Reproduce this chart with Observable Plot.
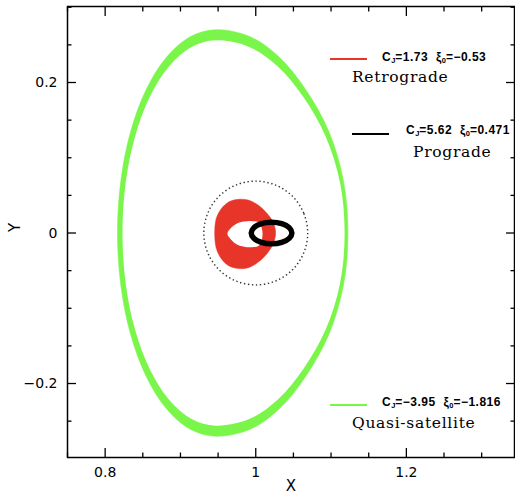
<!DOCTYPE html>
<html><head><meta charset="utf-8">
<script src="https://cdn.jsdelivr.net/npm/d3@7"></script>
<script src="https://cdn.jsdelivr.net/npm/@observablehq/plot@0.6"></script>
<style>
html,body{margin:0;padding:0;background:#fff;}
#wrap{position:relative;width:515px;height:495px;overflow:hidden;}
.lgline{position:absolute;height:2px;}
.lginfo{position:absolute;font-family:'Liberation Sans',Arial,sans-serif;font-weight:bold;font-size:12px;letter-spacing:0.5px;line-height:1;transform:translateY(-50%);white-space:nowrap;color:#000;}
.lginfo sub{font-size:7.5px;vertical-align:-2px;letter-spacing:0;}
.lgname{position:absolute;font-family:'DejaVu Serif',serif;font-size:15.5px;letter-spacing:0.7px;line-height:1;transform:translateY(-50%);white-space:nowrap;color:#000;}
</style></head><body><div id="wrap"></div>
<script>
// ---- data (x, y in rotating-frame units) ----
const quasiOuter = [
  [0.9470,0.2700],[0.9132,0.2608],[0.8817,0.2338],[0.8547,0.1909],[0.8339,0.1350],[0.8209,0.0699],
  [0.8164,0],[0.8209,-0.0699],[0.8339,-0.1350],[0.8547,-0.1909],[0.8817,-0.2338],[0.9132,-0.2608],
  [0.9470,-0.2700],[0.9924,-0.2608],[1.0310,-0.2338],[1.0660,-0.1909],[1.0970,-0.1350],[1.1163,-0.0699],
  [1.1224,0],[1.1163,0.0699],[1.0970,0.1350],[1.0660,0.1909],[1.0310,0.2338],[0.9924,0.2608]
];
const quasiInner = [
  [0.9470,0.2560],[0.9149,0.2473],[0.8850,0.2217],[0.8593,0.1810],[0.8396,0.1280],[0.8272,0.0663],
  [0.8230,0],[0.8272,-0.0663],[0.8396,-0.1280],[0.8593,-0.1810],[0.8850,-0.2217],[0.9149,-0.2473],
  [0.9470,-0.2560],[0.9913,-0.2473],[1.0290,-0.2217],[1.0630,-0.1810],[1.0930,-0.1280],[1.1120,-0.0663],
  [1.1180,0],[1.1120,0.0663],[1.0930,0.1280],[1.0630,0.1810],[1.0290,0.2217],[0.9913,0.2473]
];
const retroOuter = [
  [0.9455,0],[0.9475,0.0190],[0.9540,0.0320],[0.9645,0.0415],[0.9777,0.0448],[0.9910,0.0435],
  [1.0043,0.0362],[1.0154,0.0255],[1.0229,0.0144],[1.0264,0],
  [1.0229,-0.0150],[1.0154,-0.0268],[1.0043,-0.0380],[0.9910,-0.0458],[0.9777,-0.0472],
  [0.9645,-0.0437],[0.9540,-0.0338],[0.9475,-0.0200]
];
const retroHole = [
  [0.9623,-0.001],[0.9680,0.0075],[0.9750,0.0125],[0.9845,0.0152],[0.9950,0.0158],[1.0035,0.0142],
  [1.0075,0.0080],[1.0090,-0.001],
  [1.0075,-0.0110],[1.0035,-0.0172],[0.9950,-0.0188],[0.9845,-0.0182],[0.9750,-0.0152],[0.9680,-0.0095]
];
const progradeOrbit = [
  [1.048,0],[1.0444,0.0072],[1.0345,0.0124],[1.021,0.0143],[1.0075,0.0124],[0.9976,0.0072],
  [0.994,0],[0.9976,-0.0072],[1.0075,-0.0124],[1.021,-0.0143],[1.0345,-0.0124],[1.0444,-0.0072]
];
const hillCircle = [
  [1.069,0],[1.0637,0.0264],[1.0488,0.0488],[1.0264,0.0637],[1,0.069],[0.9736,0.0637],
  [0.9512,0.0488],[0.9363,0.0264],[0.931,0],[0.9363,-0.0264],[0.9512,-0.0488],[0.9736,-0.0637],
  [1,-0.069],[1.0264,-0.0637],[1.0488,-0.0488],[1.0637,-0.0264]
];
const xMajor = [0.8, 1.0, 1.2];
const xMajorLabels = ["0.8", "1", "1.2"];
const xMinor = [0.75, 0.85, 0.9, 0.95, 1.05, 1.1, 1.15, 1.25, 1.3];
const yMajor = [-0.2, 0, 0.2];
const yMajorLabels = ["\u22120.2", "0", "0.2"];
const yMinor = [-0.25, -0.15, -0.1, -0.05, 0.05, 0.1, 0.15, 0.25, 0.3];
const xTitle = ["X"];
const yTitle = ["Y"];
const legendNames = ["Retrograde", "Prograde", "Quasi-satellite"];
const legendCJ = ["1.73", "5.62", "\u22123.95"];
const legendXi = ["\u22120.53", "0.471", "\u22121.816"];
const legendColors = ["#e8352a", "#000000", "#7af54a"];

// ---- layout / style ----
const RED = legendColors[0], GREEN = legendColors[2];
const px = d => d[0], py = d => d[1];
const fmt = (vals, labs) => d => { const i = vals.findIndex(v => Math.abs(v - d) < 1e-9); return i < 0 ? "" : labs[i]; };
const blank = () => "";
const T = 1.3;

const chart = Plot.plot({
  width: 515, height: 495,
  marginLeft: 67, marginRight: 1, marginTop: 6, marginBottom: 38,
  style: {background: "white", fontFamily: "'DejaVu Sans', sans-serif", fontSize: "14px", color: "black"},
  x: {domain: [0.75, 1.3436], label: null},
  y: {domain: [-0.2983, 0.301], label: null},
  marks: [
    Plot.line(quasiOuter, {x: px, y: py, curve: "catmull-rom-closed", fill: GREEN, stroke: GREEN, strokeWidth: 0.6}),
    Plot.line(quasiInner, {x: px, y: py, curve: "catmull-rom-closed", fill: "white", stroke: "none"}),
    Plot.line(hillCircle, {x: px, y: py, curve: "catmull-rom-closed", stroke: "#333", strokeWidth: 1.4, strokeDasharray: "1.4,2.6", strokeLinecap: "butt"}),
    Plot.line(retroOuter, {x: px, y: py, curve: "catmull-rom-closed", fill: RED, stroke: RED, strokeWidth: 0.5}),
    Plot.line(retroHole, {x: px, y: py, curve: "catmull-rom-closed", fill: "white", stroke: "none"}),
    Plot.line(progradeOrbit, {x: px, y: py, curve: "catmull-rom-closed", stroke: "black", strokeWidth: 5.5}),
    Plot.frame({stroke: "black", strokeWidth: 1.5}),
    Plot.axisX({anchor: "bottom", ticks: xMinor, tickSize: -4.5, tickFormat: blank, strokeWidth: T, label: null}),
    Plot.axisX({anchor: "bottom", ticks: xMajor, tickSize: -9, tickPadding: 19, tickFormat: fmt(xMajor, xMajorLabels), strokeWidth: T, label: null}),
    Plot.axisX({anchor: "top", ticks: xMinor, tickSize: -4.5, tickFormat: blank, strokeWidth: T, label: null}),
    Plot.axisX({anchor: "top", ticks: xMajor, tickSize: -9, tickFormat: blank, strokeWidth: T, label: null}),
    Plot.axisY({anchor: "left", ticks: yMinor, tickSize: -4.5, tickFormat: blank, strokeWidth: T, label: null}),
    Plot.axisY({anchor: "left", ticks: yMajor, tickSize: -9, tickPadding: 19, tickFormat: fmt(yMajor, yMajorLabels), strokeWidth: T, label: null}),
    Plot.axisY({anchor: "right", ticks: yMinor, tickSize: -4.5, tickFormat: blank, strokeWidth: T, label: null}),
    Plot.axisY({anchor: "right", ticks: yMajor, tickSize: -9, tickFormat: blank, strokeWidth: T, label: null}),
    Plot.text(xTitle, {text: d => d, frameAnchor: "bottom", dy: 33, fontSize: 15}),
    Plot.text(yTitle, {text: d => d, frameAnchor: "left", dx: -52, rotate: -90, fontSize: 15})
  ]
});
const wrap = document.getElementById("wrap");
wrap.appendChild(chart);

// ---- legend (HTML overlay) ----
const legendLayout = [
  {lineX: 330, lineY: 58, lineW: 37, infoX: 382, infoY: 58, nameX: 352, nameY: 78},
  {lineX: 352, lineY: 133, lineW: 37, infoX: 406, infoY: 131, nameX: 413, nameY: 153},
  {lineX: 330, lineY: 404, lineW: 37, infoX: 382, infoY: 403, nameX: 352, nameY: 424}
];
legendNames.forEach((name, i) => {
  const L = legendLayout[i];
  const line = document.createElement("div");
  line.className = "lgline";
  line.style.cssText = `left:${L.lineX}px;top:${L.lineY}px;width:${L.lineW}px;background:${legendColors[i]};`;
  wrap.appendChild(line);
  const info = document.createElement("div");
  info.className = "lginfo";
  info.style.left = L.infoX + "px"; info.style.top = L.infoY + "px";
  info.innerHTML = `C<sub>J</sub>=${legendCJ[i]}&nbsp; \u03BE<sub>0</sub>=${legendXi[i]}`;
  wrap.appendChild(info);
  const nm = document.createElement("div");
  nm.className = "lgname";
  nm.style.left = L.nameX + "px"; nm.style.top = L.nameY + "px";
  nm.textContent = name;
  wrap.appendChild(nm);
});
</script></body></html>
